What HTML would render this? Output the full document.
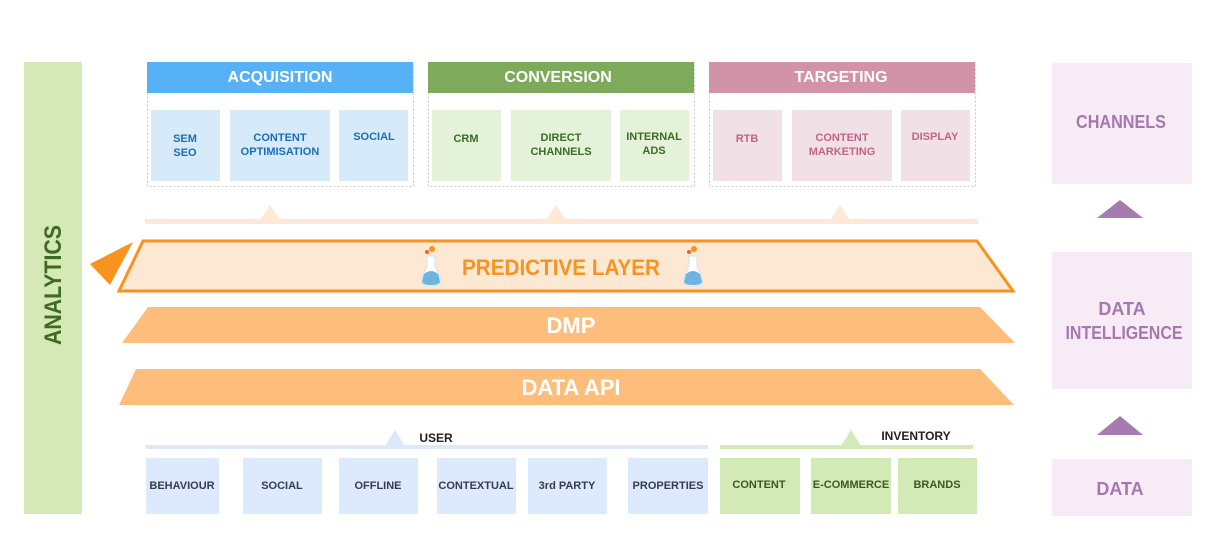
<!DOCTYPE html>
<html><head><meta charset="utf-8"><style>
html,body{margin:0;padding:0;background:#fff;}
svg{display:block;}
text{font-family:"Liberation Sans Narrow","Liberation Sans",sans-serif;font-weight:bold;text-anchor:middle;}
</style></head><body>
<svg width="1207" height="537" viewBox="0 0 1207 537" xmlns="http://www.w3.org/2000/svg">
<!-- analytics -->
<rect x="24" y="62" width="58" height="452" fill="#d4e9b6"/>
<text x="0" y="0" transform="translate(61,285) rotate(-90)" font-size="24" fill="#3f6a22" textLength="120" lengthAdjust="spacingAndGlyphs">ANALYTICS</text>

<!-- acquisition -->
<rect x="147.5" y="62.5" width="266" height="124" fill="none" stroke="#c8c8c8" stroke-dasharray="2,2"/>
<rect x="147" y="62" width="266" height="31" fill="#56b1f7"/>
<text x="280" y="82" font-size="16" fill="#fff">ACQUISITION</text>
<g fill="#d6eafa"><rect x="151" y="110" width="69" height="71"/><rect x="230" y="110" width="100" height="71"/><rect x="339" y="110" width="69" height="71"/></g>
<g fill="#1a6fb5" font-size="11"><text x="185" y="142">SEM</text><text x="185" y="156">SEO</text><text x="280" y="141">CONTENT</text><text x="280" y="155">OPTIMISATION</text><text x="374" y="140">SOCIAL</text></g>

<!-- conversion -->
<rect x="428.5" y="62.5" width="266" height="124" fill="none" stroke="#c8c8c8" stroke-dasharray="2,2"/>
<rect x="428" y="62" width="266" height="31" fill="#7eab5b"/>
<text x="558" y="82" font-size="16" fill="#fff">CONVERSION</text>
<g fill="#e3f2d9"><rect x="432" y="110" width="69" height="71"/><rect x="511" y="110" width="100" height="71"/><rect x="620" y="110" width="69" height="71"/></g>
<g fill="#3f6b25" font-size="11"><text x="466" y="142">CRM</text><text x="561" y="141">DIRECT</text><text x="561" y="155">CHANNELS</text><text x="654" y="140">INTERNAL</text><text x="654" y="154">ADS</text></g>

<!-- targeting -->
<rect x="709.5" y="62.5" width="266" height="124" fill="none" stroke="#c8c8c8" stroke-dasharray="2,2"/>
<rect x="709" y="62" width="266" height="31" fill="#d293a9"/>
<text x="841" y="82" font-size="16" fill="#fff">TARGETING</text>
<g fill="#f2e0e7"><rect x="713" y="110" width="69" height="71"/><rect x="792" y="110" width="100" height="71"/><rect x="901" y="110" width="69" height="71"/></g>
<g fill="#c1648a" font-size="11"><text x="747" y="142">RTB</text><text x="842" y="141">CONTENT</text><text x="842" y="155">MARKETING</text><text x="935" y="140">DISPLAY</text></g>

<!-- connector -->
<rect x="145" y="219" width="833" height="5" fill="#fde9d5"/>
<g fill="#fde9d5"><polygon points="260,220 270,205 280,220"/><polygon points="546,220 556,205 566,220"/><polygon points="830,220 840,205 850,220"/></g>

<!-- predictive -->
<polygon points="90,264 133,242 110,285" fill="#f7931e"/>
<polygon points="143,241 977,241 1013,291 119,291" fill="#fde8d3" stroke="#f7931e" stroke-width="3"/>
<text x="561" y="275" font-size="22" fill="#f7931e" textLength="198" lengthAdjust="spacingAndGlyphs">PREDICTIVE LAYER</text>
<g>
<path d="M427 256 L435 256 L435 266 L441 280 Q441 286 431 286 Q421 286 421 280 L427 266 Z" fill="#fff" stroke="#cfe3f0"/>
<path d="M424 274 Q431 268 438 274 L440 281 Q440 285 431 285 Q422 285 422 281 Z" fill="#6fb3e0"/>
<circle cx="432" cy="249" r="3" fill="#f7931e"/><circle cx="427" cy="252" r="2" fill="#f26522"/>
<path d="M689 256 L697 256 L697 266 L703 280 Q703 286 693 286 Q683 286 683 280 L689 266 Z" fill="#fff" stroke="#cfe3f0"/>
<path d="M686 274 Q693 268 700 274 L702 281 Q702 285 693 285 Q684 285 684 281 Z" fill="#6fb3e0"/>
<circle cx="694" cy="249" r="3" fill="#f7931e"/><circle cx="689" cy="252" r="2" fill="#f26522"/>
</g>

<!-- DMP / API -->
<polygon points="148,307 980,307 1015,343 122,343" fill="#fdbe7c"/>
<text x="571" y="333" font-size="22" fill="#fff">DMP</text>
<polygon points="136,369 980,369 1014,405 119,405" fill="#fdbe7c"/>
<text x="571" y="395" font-size="22" fill="#fff">DATA API</text>

<!-- user -->
<rect x="146" y="445" width="562" height="4" fill="#dde9fb"/>
<polygon points="385,446 395,430 405,446" fill="#dde9fb"/>
<text x="436" y="442" font-size="12" fill="#222">USER</text>
<rect x="720" y="445" width="253" height="4" fill="#d3e9b6"/>
<polygon points="841,446 851,430 861,446" fill="#d3e9b6"/>
<text x="916" y="440" font-size="12" fill="#222">INVENTORY</text>
<g fill="#dde9fc"><rect x="146" y="458" width="73" height="56"/><rect x="243" y="458" width="79" height="56"/><rect x="339" y="458" width="79" height="56"/><rect x="437" y="458" width="79" height="56"/><rect x="528" y="458" width="79" height="56"/><rect x="628" y="458" width="80" height="56"/></g>
<g fill="#333d4f" font-size="11"><text x="182" y="489">BEHAVIOUR</text><text x="282" y="489">SOCIAL</text><text x="378" y="489">OFFLINE</text><text x="476" y="489">CONTEXTUAL</text><text x="567" y="489">3rd PARTY</text><text x="668" y="489">PROPERTIES</text></g>
<g fill="#d3e9b6"><rect x="720" y="458" width="80" height="56"/><rect x="811" y="458" width="80" height="56"/><rect x="898" y="458" width="79" height="56"/></g>
<g fill="#3d5a1e" font-size="11"><text x="759" y="488">CONTENT</text><text x="851" y="488">E-COMMERCE</text><text x="937" y="488">BRANDS</text></g>

<!-- right column -->
<rect x="1052" y="63" width="140" height="121" fill="#f7ecf6"/>
<text x="1121" y="128" font-size="18" fill="#a678b0" textLength="90" lengthAdjust="spacingAndGlyphs">CHANNELS</text>
<polygon points="1097,218 1120,200 1143,218" fill="#a57bb0"/>
<rect x="1052" y="252" width="140" height="137" fill="#f7ecf6"/>
<text x="1122" y="315" font-size="18" fill="#a678b0">DATA</text>
<text x="1124" y="339" font-size="18" fill="#a678b0" textLength="117" lengthAdjust="spacingAndGlyphs">INTELLIGENCE</text>
<polygon points="1097,435 1120,416 1143,435" fill="#a57bb0"/>
<rect x="1052" y="459" width="140" height="57" fill="#f7ecf6"/>
<text x="1120" y="495" font-size="18" fill="#a678b0">DATA</text>
</svg>
</body></html>
